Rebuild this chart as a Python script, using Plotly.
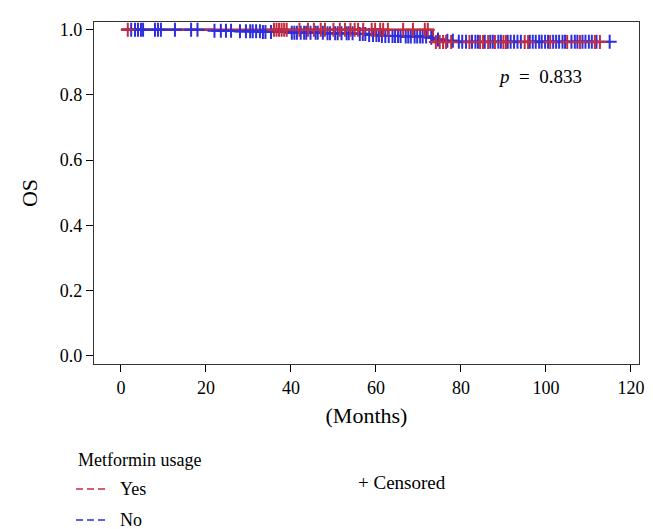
import numpy as np
import plotly.graph_objects as go

# ---- data ----
yes_event_times = [0.0, 73.4, 113.0]
yes_surv = [1.0, 0.962, 0.962]
yes_censor_times = [1.6, 36.0, 36.6, 37.2, 37.8, 38.4, 39.0, 42.0, 44.0, 45.4, 47.0, 48.0,
                    50.0, 51.5, 52.7, 54.0, 55.0, 55.8, 57.0, 59.0, 59.8, 61.0, 61.7, 62.8,
                    66.4, 68.7, 71.5, 72.2,
                    74.1, 75.0, 75.8, 76.5, 77.7, 82.0, 84.5, 85.2, 86.4, 88.0, 90.0, 90.6,
                    95.0, 95.8, 101.0, 105.0, 108.0, 111.5, 112.7]

no_event_times = [0.0, 21.5, 27.0, 33.0, 40.0, 48.0, 55.0, 58.0, 61.0, 66.0, 72.5, 73.5,
                  76.0, 79.0, 115.0]
no_surv = [1.0, 0.997, 0.995, 0.993, 0.991, 0.989, 0.987, 0.984, 0.981, 0.979, 0.975,
           0.970, 0.966, 0.963, 0.963]
no_censor_times = [2.4, 3.3, 4.0, 4.7, 5.2, 8.0, 8.7, 9.4, 12.7, 16.5, 18.0, 22.0, 23.5,
                   24.7, 25.9, 28.0, 29.4, 30.4, 31.0, 31.8, 32.7, 33.4, 34.0, 35.3, 40.2,
                   40.8, 41.4, 42.3, 43.1, 43.6, 44.6, 45.8, 46.3, 47.5, 48.6, 49.2, 50.4,
                   51.0, 51.9, 53.1, 53.6, 54.5, 56.2, 56.9, 57.5, 58.4, 59.3, 60.1, 60.7,
                   61.4, 62.2, 63.0, 63.9, 64.5, 65.2, 65.8, 67.0, 67.6, 68.2, 69.1, 69.7,
                   70.4, 71.0, 71.8, 73.0, 74.6, 76.8, 78.1, 79.5, 80.3, 81.2, 82.6, 83.4,
                   84.0, 85.6, 86.9, 87.5, 88.8, 89.4, 91.0, 91.7, 92.5, 93.3, 94.1, 96.2,
                   96.9, 97.6, 98.4, 99.0, 99.8, 100.5, 101.7, 102.4, 103.1, 103.9, 104.5,
                   106.0, 106.8, 107.4, 108.6, 109.3, 110.1, 110.8, 111.9, 115.0]

x_ticks = [0, 20, 40, 60, 80, 100, 120]
y_ticks = [0.0, 0.2, 0.4, 0.6, 0.8, 1.0]
y_tick_labels = ["0.0", "0.2", "0.4", "0.6", "0.8", "1.0"]
p_text = "<i>p</i>\u00a0 =\u00a0 0.833"

RED = "#C42B3C"
BLUE = "#2E2EDC"
FONT = "Liberation Serif"


def step_at(times, surv, t):
    idx = np.searchsorted(np.asarray(times), np.asarray(t), side="right") - 1
    return np.asarray(surv)[idx]


fig = go.Figure()
fig.add_trace(go.Scatter(x=no_event_times, y=no_surv, mode="lines", line_shape="hv",
                         line=dict(color=BLUE, width=2.2), showlegend=False))
fig.add_trace(go.Scatter(x=yes_event_times, y=yes_surv, mode="lines", line_shape="hv",
                         line=dict(color=RED, width=2.2), showlegend=False))
fig.add_trace(go.Scatter(x=no_censor_times, y=step_at(no_event_times, no_surv, no_censor_times),
                         mode="markers",
                         marker=dict(symbol="cross-thin", size=10, line=dict(color=BLUE, width=2)),
                         showlegend=False))
fig.add_trace(go.Scatter(x=yes_censor_times, y=step_at(yes_event_times, yes_surv, yes_censor_times),
                         mode="markers",
                         marker=dict(symbol="cross-thin", size=10, line=dict(color=RED, width=2)),
                         showlegend=False))

W, H = 653, 529
L, R, T, B = 86, 22, 14, 173
pw, ph = W - L - R, H - T - B


def px(x):
    return (x - L) / pw


def py(y):
    return (H - B - y) / ph


fig.add_annotation(x=98.5, y=0.855, xref="x", yref="y", text=p_text, showarrow=False,
                   font=dict(family=FONT, size=19, color="black"))

# legend (custom)
fig.add_annotation(x=px(68), y=py(452), xref="paper", yref="paper", text="Metformin usage",
                   showarrow=False, xanchor="left", yanchor="middle",
                   font=dict(family=FONT, size=18, color="black"))
for label, color, yy in [("Yes", RED, 481), ("No", BLUE, 512)]:
    fig.add_shape(type="line", xref="paper", yref="paper", x0=px(68), x1=px(98),
                  y0=py(yy), y1=py(yy), line=dict(color=color, width=1.5, dash="7px,4px"))
    fig.add_annotation(x=px(110), y=py(yy), xref="paper", yref="paper", text=label,
                       showarrow=False, xanchor="left", yanchor="middle",
                       font=dict(family=FONT, size=18, color="black"))
fig.add_annotation(x=px(348), y=py(474), xref="paper", yref="paper", text="+\u00a0Censored",
                   showarrow=False, xanchor="left", yanchor="middle",
                   font=dict(family=FONT, size=19, color="black"))

fig.update_layout(
    width=W, height=H,
    margin=dict(l=L, r=R, t=T, b=B, autoexpand=False),
    paper_bgcolor="white", plot_bgcolor="white",
    font=dict(family=FONT, size=18, color="black"),
    xaxis=dict(range=[-6.35, 121.9], tickvals=x_ticks, ticks="outside", ticklen=7,
               tickwidth=1, tickcolor="black", showgrid=False, zeroline=False,
               showline=True, mirror=True, linecolor="#333333", linewidth=1.3,
               title=dict(text="(Months)", standoff=10),
               tickfont=dict(family=FONT, size=18)),
    yaxis=dict(range=[-0.0255, 1.0236], tickvals=y_ticks, ticktext=y_tick_labels,
               ticks="outside", ticklen=7, tickwidth=1, tickcolor="black",
               showgrid=False, zeroline=False, showline=True, mirror=True,
               linecolor="#333333", linewidth=1.3,
               title=dict(text="OS", standoff=16),
               tickfont=dict(family=FONT, size=18)),
)

fig.write_html("out.html")
